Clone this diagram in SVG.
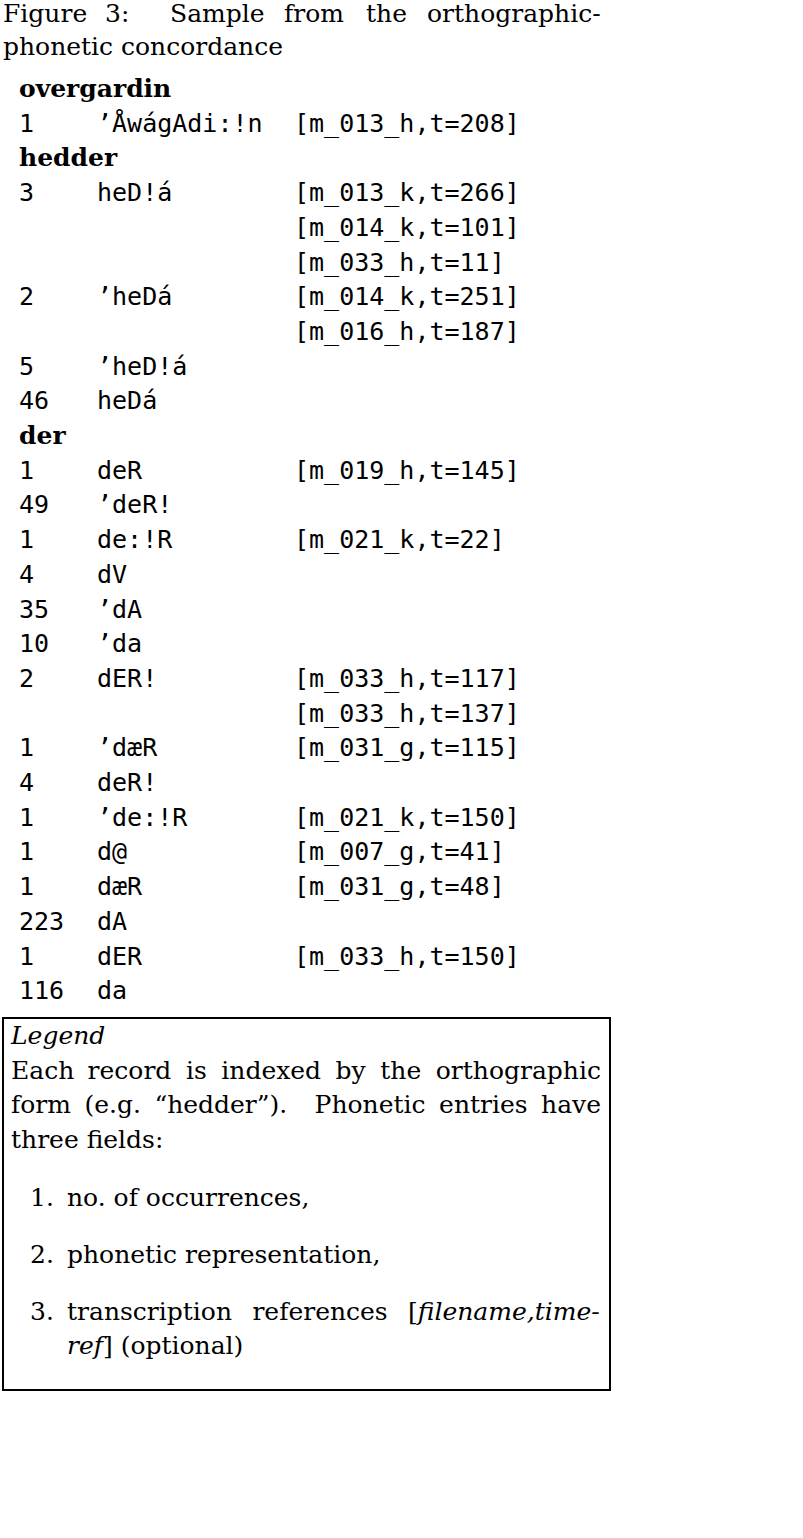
<svg xmlns="http://www.w3.org/2000/svg" width="803" height="1538" viewBox="0 0 803 1538">
<style>
.s{font-family:"DejaVu Serif","Liberation Serif",serif;font-size:25px;fill:#000}
.b{font-weight:bold}
.i{font-style:italic}
.m{font-family:"DejaVu Sans Mono","Liberation Mono",monospace;font-size:25px;fill:#000}
</style>
<rect x="0" y="0" width="803" height="1538" fill="#fff"/>
<g id="caption" class="s">
<text y="22"><tspan x="3">Figure</tspan><tspan x="105">3:</tspan><tspan x="170">Sample</tspan><tspan x="284">from</tspan><tspan x="366">the</tspan><tspan x="427">orthographic-</tspan></text>
<text x="3" y="55">phonetic concordance</text>
</g>
<g id="table">
<g id="h-overgardin"><text class="s b" x="19" y="97">overgardin</text></g>
<g id="r-overgardin" class="m">
<text x="19" y="131.7">1</text><text x="97" y="131.7">’ÅwágAdi:!n</text><text x="294" y="131.7">[m_013_h,t=208]</text>
</g>
<g id="h-hedder"><text class="s b" x="19" y="166.4">hedder</text></g>
<g id="r-hedder" class="m">
<text x="19" y="201.1">3</text><text x="97" y="201.1">heD!á</text><text x="294" y="201.1">[m_013_k,t=266]</text>
<text x="294" y="235.8">[m_014_k,t=101]</text>
<text x="294" y="270.5">[m_033_h,t=11]</text>
<text x="19" y="305.2">2</text><text x="97" y="305.2">’heDá</text><text x="294" y="305.2">[m_014_k,t=251]</text>
<text x="294" y="339.9">[m_016_h,t=187]</text>
<text x="19" y="374.6">5</text><text x="97" y="374.6">’heD!á</text>
<text x="19" y="409.3">46</text><text x="97" y="409.3">heDá</text>
</g>
<g id="h-der"><text class="s b" x="19" y="444">der</text></g>
<g id="r-der" class="m">
<text x="19" y="478.7">1</text><text x="97" y="478.7">deR</text><text x="294" y="478.7">[m_019_h,t=145]</text>
<text x="19" y="513.4">49</text><text x="97" y="513.4">’deR!</text>
<text x="19" y="548.1">1</text><text x="97" y="548.1">de:!R</text><text x="294" y="548.1">[m_021_k,t=22]</text>
<text x="19" y="582.8">4</text><text x="97" y="582.8">dV</text>
<text x="19" y="617.5">35</text><text x="97" y="617.5">’dA</text>
<text x="19" y="652.2">10</text><text x="97" y="652.2">’da</text>
<text x="19" y="686.9">2</text><text x="97" y="686.9">dER!</text><text x="294" y="686.9">[m_033_h,t=117]</text>
<text x="294" y="721.6">[m_033_h,t=137]</text>
<text x="19" y="756.3">1</text><text x="97" y="756.3">’dæR</text><text x="294" y="756.3">[m_031_g,t=115]</text>
<text x="19" y="791">4</text><text x="97" y="791">deR!</text>
<text x="19" y="825.7">1</text><text x="97" y="825.7">’de:!R</text><text x="294" y="825.7">[m_021_k,t=150]</text>
<text x="19" y="860.4">1</text><text x="97" y="860.4">d@</text><text x="294" y="860.4">[m_007_g,t=41]</text>
<text x="19" y="895.1">1</text><text x="97" y="895.1">dæR</text><text x="294" y="895.1">[m_031_g,t=48]</text>
<text x="19" y="929.8">223</text><text x="97" y="929.8">dA</text>
<text x="19" y="964.5">1</text><text x="97" y="964.5">dER</text><text x="294" y="964.5">[m_033_h,t=150]</text>
<text x="19" y="999.2">116</text><text x="97" y="999.2">da</text>
</g>
</g>
<g id="legend">
<rect x="3" y="1018" width="607" height="372" fill="none" stroke="#000" stroke-width="2"/>
<g class="s">
<text class="i" x="11" y="1044">Legend</text>
<text y="1079"><tspan x="11">Each</tspan><tspan x="87.6">record</tspan><tspan x="185.9">is</tspan><tspan x="221.3">indexed</tspan><tspan x="335.6">by</tspan><tspan x="380.3">the</tspan><tspan x="435.8">orthographic</tspan></text>
<text y="1113"><tspan x="11">form</tspan><tspan x="84.4">(e.g.</tspan><tspan x="154.4">“hedder”).</tspan><tspan x="314.6">Phonetic</tspan><tspan x="439.1">entries</tspan><tspan x="541.1">have</tspan></text>
<text x="11" y="1148">three fields:</text>
<text x="30" y="1206">1.</text><text x="67" y="1206">no. of occurrences,</text>
<text x="30" y="1263">2.</text><text x="67" y="1263">phonetic representation,</text>
<text x="30" y="1320">3.</text>
<text y="1320"><tspan x="67">transcription</tspan><tspan x="252.4">references</tspan><tspan x="408">[<tspan class="i">filename,time-</tspan></tspan></text>
<text x="67" y="1354"><tspan class="i">ref</tspan>] (optional)</text>
</g>
</g>
</svg>
